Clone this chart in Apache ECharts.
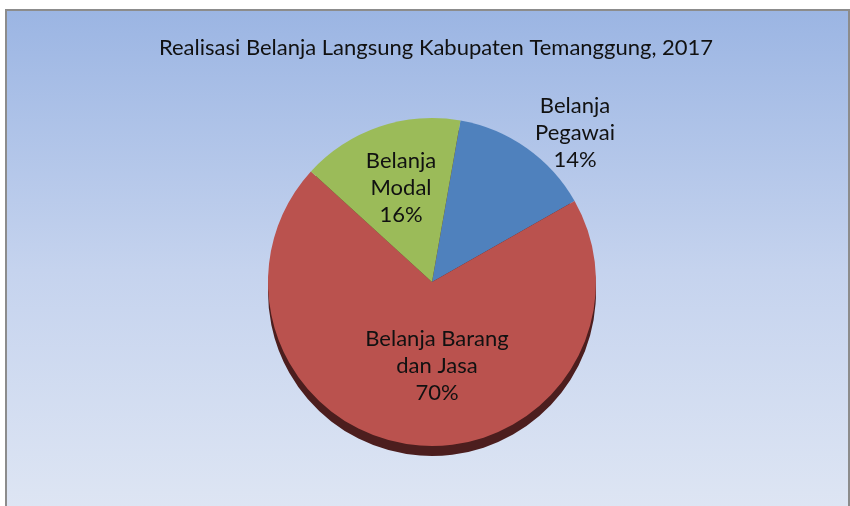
<!DOCTYPE html>
<html>
<head>
<meta charset="utf-8">
<script src="https://cdn.jsdelivr.net/npm/echarts@6/dist/echarts.min.js"></script>
<style>
  html, body { margin: 0; padding: 0; background: #ffffff; }
  #chart { width: 850px; height: 506px; }
</style>
</head>
<body>
<div id="chart"></div>
<script>
// Realisasi Belanja Langsung, share by spending type (percent)
const categories = ['Belanja\nPegawai', 'Belanja Barang\ndan Jasa', 'Belanja\nModal'];
const values = [14, 70, 16];
const colors = ['#4F81BD', '#BA524E', '#9BBB59'];
const titleText = 'Realisasi Belanja Langsung Kabupaten Temanggung, 2017';

const CX = 432, CY = 282, R = 164, DEPTH = 10;
const FONT = 'Lato, "Noto Sans", sans-serif';

// label block offsets from the pie centre, per slice
const labelOffsets = [[143, -149], [5, 84], [-31, -94]];

const chart = echarts.init(document.getElementById('chart'), null, { renderer: 'canvas' });

const data = categories.map((name, i) => ({ name, value: values[i], itemStyle: { color: colors[i] } }));

chart.setOption({
  backgroundColor: '#ffffff',
  animation: false,
  graphic: [{
    type: 'rect',
    z: -10,
    shape: { x: 6, y: 10, width: 843, height: 520 },
    style: {
      fill: {
        type: 'linear', x: 0, y: 0, x2: 0, y2: 1,
        colorStops: [
          { offset: 0, color: '#9BB5E3' },
          { offset: 0.5, color: '#C5D3EE' },
          { offset: 1, color: '#E0E7F4' }
        ]
      },
      stroke: '#8C8C8C',
      lineWidth: 2
    }
  }],
  title: {
    text: titleText,
    left: 431,
    textAlign: 'center',
    top: 32,
    textStyle: { fontFamily: FONT, fontSize: 22, fontWeight: 'normal', color: '#111111' }
  },
  series: [
    {
      // side wall of the tilted pie
      type: 'pie',
      silent: true,
      z: 1,
      center: [CX, CY + DEPTH],
      radius: R,
      startAngle: 80,
      label: { show: false },
      labelLine: { show: false },
      itemStyle: { color: '#4C1E1E' },
      data: values.map((v, i) => ({ name: categories[i], value: v }))
    },
    {
      type: 'pie',
      z: 2,
      center: [CX, CY],
      radius: R,
      startAngle: 80,
      itemStyle: { borderWidth: 0 },
      label: {
        show: true,
        position: 'inside',
        formatter: (p) => p.name + '\n' + Math.round(p.percent) + '%',
        fontFamily: FONT,
        fontSize: 22,
        lineHeight: 27,
        color: '#111111',
        align: 'center'
      },
      labelLine: { show: false },
      labelLayout: (p) => {
        const o = labelOffsets[p.dataIndex];
        return { x: CX + o[0], y: CY + o[1], align: 'center', verticalAlign: 'middle' };
      },
      data: data
    }
  ]
});
</script>
</body>
</html>
